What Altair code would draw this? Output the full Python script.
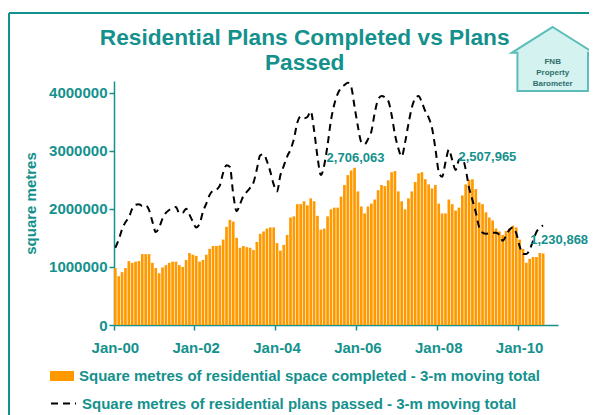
import altair as alt
import pandas as pd

# ---------------- data ----------------
MONTH_NAMES = ["Jan", "Feb", "Mar", "Apr", "May", "Jun",
               "Jul", "Aug", "Sep", "Oct", "Nov", "Dec"]
MONTHS = [f"{m}-{y:02d}" for y in range(0, 11) for m in MONTH_NAMES]  # Jan-00 .. Dec-10

completed = [
    980000, 840000, 910000, 980000, 1100000, 1070000, 1090000, 1100000, 1220000, 1220000, 1220000, 1070000,  # 2000
    980000, 890000, 990000, 1030000, 1070000, 1090000, 1090000, 1030000, 1000000, 1120000, 1240000, 1210000,  # 2001
    1190000, 1090000, 1120000, 1210000, 1310000, 1360000, 1360000, 1370000, 1470000, 1690000, 1810000, 1780000,  # 2002
    1500000, 1330000, 1360000, 1340000, 1330000, 1290000, 1430000, 1570000, 1610000, 1660000, 1680000, 1680000,  # 2003
    1410000, 1280000, 1380000, 1550000, 1850000, 1870000, 2080000, 2080000, 2130000, 2060000, 2180000, 2130000,  # 2004
    1880000, 1640000, 1660000, 1870000, 1990000, 2020000, 2020000, 2210000, 2410000, 2580000, 2660000, 2706063,  # 2005
    2300000, 2040000, 1920000, 2040000, 2090000, 2160000, 2320000, 2410000, 2390000, 2490000, 2630000, 2650000,  # 2006
    2300000, 2130000, 1990000, 2180000, 2300000, 2460000, 2610000, 2630000, 2510000, 2420000, 2350000, 2410000,  # 2007
    2090000, 1920000, 1920000, 2160000, 2080000, 1970000, 2020000, 2230000, 2420000, 2500000, 2507965, 2340000,  # 2008
    2110000, 2080000, 1940000, 1850000, 1800000, 1660000, 1610000, 1550000, 1620000, 1660000, 1710000, 1680000,  # 2009
    1470000, 1310000, 1070000, 1140000, 1170000, 1170000, 1240000, 1230868,                                       # 2010
]

passed = [
    1330000, 1470000, 1650000, 1770000, 1850000, 2000000, 2070000, 2080000, 2050000, 2060000, 1980000, 1780000,  # 2000
    1600000, 1680000, 1830000, 1930000, 1980000, 2010000, 2030000, 1920000, 1930000, 2000000, 1900000, 1780000,  # 2001
    1680000, 1740000, 1950000, 2090000, 2240000, 2310000, 2330000, 2400000, 2620000, 2750000, 2720000, 2250000,  # 2002
    1960000, 2080000, 2220000, 2290000, 2360000, 2450000, 2680000, 2920000, 2940000, 2820000, 2640000, 2420000,  # 2003
    2300000, 2580000, 2740000, 2900000, 3020000, 3200000, 3480000, 3590000, 3560000, 3580000, 3680000, 3350000,  # 2004
    2900000, 2580000, 2750000, 3100000, 3520000, 3800000, 3980000, 4080000, 4130000, 4170000, 4100000, 3760000,  # 2005
    3420000, 3150000, 3110000, 3200000, 3330000, 3650000, 3880000, 3940000, 3920000, 3860000, 3620000, 3280000,  # 2006
    3040000, 2900000, 3140000, 3460000, 3740000, 3900000, 3940000, 3830000, 3680000, 3570000, 3390000, 3040000,  # 2007
    2640000, 2550000, 2800000, 3020000, 2840000, 2670000, 2840000, 2870000, 2680000, 2360000, 2150000, 1940000,  # 2008
    1680000, 1590000, 1570000, 1580000, 1590000, 1590000, 1550000, 1450000, 1540000, 1640000, 1680000, 1580000,  # 2009
    1360000, 1220000, 1220000, 1300000, 1450000, 1600000, 1680000, 1710000,                                       # 2010
]

axis_months = ["Jan-00", "Jan-02", "Jan-04", "Jan-06", "Jan-08", "Jan-10"]
y_ticks = [0, 1000000, 2000000, 3000000, 4000000]
title_lines = ["Residential Plans Completed vs Plans", "Passed"]
series_bar = "Square metres of residential space completed - 3-m moving total"
series_line = "Square metres of residential plans passed - 3-m moving total"
labelled = ["Dec-05", "Nov-08", "Aug-10"]
logo_lines = ["FNB", "Property", "Barometer"]

n = len(completed)
df = pd.DataFrame({
    "month": MONTHS[:n],
    "completed": completed,
    "passed": passed,
    "s1": series_bar,
    "s2": series_line,
})
one = pd.DataFrame({"k": [0]})

# ---------------- style ----------------
TEAL = "#14918d"
ORANGE = "#FF9900"
FONT = "Liberation Sans"

xscale = alt.Scale(domain=MONTHS, paddingInner=0.2, paddingOuter=0)
yscale = alt.Scale(domain=[0, 4200000], nice=False, zero=True)

x_axis = alt.Axis(values=axis_months, bandPosition=0, labelAngle=0, title=None,
                  tickSize=5, labelPadding=10, labelFontSize=15)
y_axis = alt.Axis(values=y_ticks, format="d", title="square metres", tickSize=5,
                  labelPadding=2, labelFontSize=15, titleFontSize=15, titlePadding=10)

X = alt.X("month:O", scale=xscale, axis=x_axis)

bars = alt.Chart(df).mark_bar().encode(
    x=X,
    y=alt.Y("completed:Q", scale=yscale, axis=y_axis),
    fill=alt.Fill("s1:N", scale=alt.Scale(domain=[series_bar], range=[ORANGE]),
                  legend=alt.Legend(orient="none", legendX=-64, legendY=283, title=None,
                                    symbolType="M-1,-0.42H1V0.42H-1Z", symbolSize=576,
                                    symbolStrokeWidth=0, labelFontSize=15, labelLimit=600,
                                    labelOffset=5)),
)

line = alt.Chart(df).mark_line(color="black", strokeWidth=2, interpolate="monotone").encode(
    x=X,
    y=alt.Y("passed:Q", scale=yscale),
    strokeDash=alt.StrokeDash("s2:N", scale=alt.Scale(domain=[series_line], range=[[7, 5]]),
                              legend=alt.Legend(orient="none", legendX=-64, legendY=309, title=None,
                                                symbolType="stroke", symbolStrokeColor="black",
                                                symbolStrokeWidth=2, symbolSize=625,
                                                symbolDash=[10, 5], labelFontSize=15,
                                                labelLimit=600, labelOffset=5)),
)

def data_label(month, dx, dy):
    return alt.Chart(df).transform_filter(alt.datum.month == month).mark_text(
        fontSize=13, fontWeight="bold", font=FONT, color=TEAL, dx=dx, dy=dy
    ).encode(x=X, y=alt.Y("completed:Q", scale=yscale),
             text=alt.Text("completed:Q", format=",d"))

labels = [data_label(labelled[0], 1, -10),
          data_label(labelled[1], 15, -22),
          data_label(labelled[2], 16, -13)]

title = alt.Chart(one).mark_text(text=title_lines, fontSize=22.7, font=FONT, fontWeight="bold",
                                 color=TEAL, lineHeight=25, baseline="middle").encode(
    x=alt.value(190.7), y=alt.value(-43))

frame_left = alt.Chart(one).mark_rule(color=TEAL, strokeWidth=2).encode(
    x=alt.value(-105), y=alt.value(-68), y2=alt.value(340))
frame_top = alt.Chart(one).mark_rule(color=TEAL, strokeWidth=2).encode(
    x=alt.value(-105), x2=alt.value(500), y=alt.value(-68))

HOUSE = "M0,-0.78L1,-0.15L0.86,-0.15L0.86,0.78L-0.86,0.78L-0.86,-0.15L-1,-0.15Z"
house = alt.Chart(one).mark_point(shape=HOUSE, size=6724, filled=True, fill="#d3f2f0",
                                  stroke="#5cbdb8", strokeWidth=2, opacity=1).encode(
    x=alt.value(438.7), y=alt.value(-22))
house_text = alt.Chart(one).mark_text(text=logo_lines, fontSize=8, font=FONT, fontWeight="bold",
                                      color="#2f6f6c", lineHeight=11).encode(
    x=alt.value(438.7), y=alt.value(-19))

chart = alt.layer(frame_left, frame_top, house, house_text, title, bars, line, *labels).properties(
    width=444,
    height=244,
    autosize=alt.AutoSizeParams(type="none"),
    padding={"left": 106, "top": 73, "right": 31, "bottom": 90},
).configure_view(stroke=None).configure_axis(
    labelFont=FONT, titleFont=FONT, labelFontWeight="bold", titleFontWeight="bold",
    labelColor=TEAL, titleColor=TEAL, domainColor=TEAL, tickColor=TEAL,
    domainWidth=1.5, tickWidth=1.5, grid=False,
).configure_legend(
    labelFont=FONT, labelFontWeight="bold", labelColor=TEAL,
)

chart.save("out.html", embed_options={"renderer": "svg", "actions": False})
